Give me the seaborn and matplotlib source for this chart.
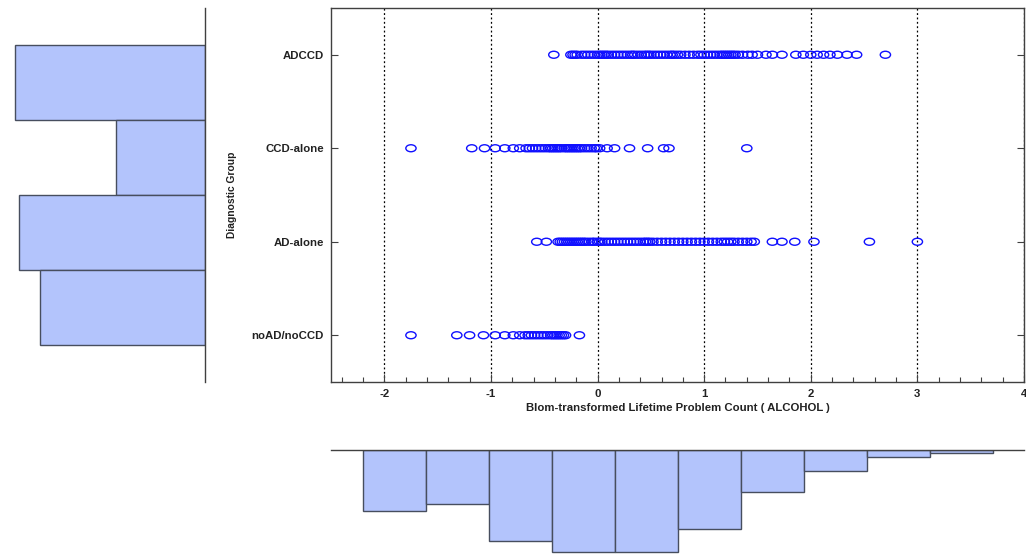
import numpy as np
import pandas as pd
import matplotlib
matplotlib.use("Agg")
import matplotlib.pyplot as plt
from matplotlib.path import Path
from matplotlib.transforms import Affine2D
import seaborn as sns

# ---------------- data ----------------
groups = ["ADCCD", "CCD-alone", "AD-alone", "noAD/noCCD"]

adccd_vals = [-0.41, -0.25, -0.23, -0.21, -0.19, -0.15, -0.12, -0.09, -0.06, -0.03,
              0.0, 0.02, 0.04, 0.06, 0.08, 0.10, 0.13, 0.16, 0.19, 0.22, 0.25, 0.28,
              0.31, 0.33, 0.35, 0.38, 0.41, 0.44, 0.46, 0.48, 0.50, 0.53, 0.56, 0.59,
              0.62, 0.65, 0.68, 0.70, 0.72, 0.75, 0.78, 0.82, 0.86, 0.90, 0.94, 0.97,
              1.00, 1.03, 1.06, 1.09, 1.12, 1.15, 1.17, 1.19, 1.21, 1.23, 1.25, 1.27,
              1.29, 1.32, 1.36, 1.41, 1.45, 1.50, 1.58, 1.64, 1.73, 1.86, 1.93, 2.00,
              2.06, 2.12, 2.18, 2.25, 2.34, 2.43, 2.70]
ccd_vals = [-1.75, -1.18, -1.06, -0.96, -0.87, -0.79, -0.73, -0.67, -0.64, -0.61,
            -0.58, -0.55, -0.52, -0.49, -0.46, -0.44, -0.42, -0.40, -0.38, -0.36,
            -0.34, -0.31, -0.29, -0.27, -0.25, -0.23, -0.21, -0.19, -0.17, -0.15,
            -0.12, -0.09, -0.06, -0.03, -0.01, 0.02, 0.09, 0.16, 0.30, 0.47, 0.62,
            0.67, 1.40]
ad_vals = [-0.57, -0.48, -0.37, -0.35, -0.33, -0.31, -0.29, -0.27, -0.25, -0.23,
           -0.21, -0.19, -0.17, -0.15, -0.13, -0.11, -0.08, -0.05, -0.03, 0.0, 0.02,
           0.04, 0.07, 0.10, 0.13, 0.16, 0.19, 0.22, 0.25, 0.28, 0.31, 0.34, 0.37,
           0.40, 0.43, 0.45, 0.47, 0.49, 0.52, 0.56, 0.60, 0.64, 0.68, 0.72, 0.76,
           0.80, 0.84, 0.88, 0.92, 0.96, 1.00, 1.04, 1.08, 1.12, 1.16, 1.19, 1.22,
           1.25, 1.28, 1.32, 1.36, 1.40, 1.44, 1.47, 1.64, 1.73, 1.85, 2.03, 2.55,
           3.00]
noad_vals = [-1.75, -1.32, -1.20, -1.07, -0.96, -0.87, -0.79, -0.73, -0.68, -0.65,
             -0.62, -0.59, -0.56, -0.53, -0.50, -0.47, -0.44, -0.42, -0.40, -0.38,
             -0.36, -0.34, -0.32, -0.30, -0.17]

group_counts = [190, 89, 186, 165]          # left marginal histogram
bin_edges = [-2.204, -1.613, -1.022, -0.431, 0.160, 0.751, 1.342, 1.933, 2.524, 3.115, 3.706]
bin_counts = [61, 54, 91, 102, 102, 79, 42, 21, 7, 3]   # bottom marginal histogram

x_ticks = [-2, -1, 0, 1, 2, 3, 4]
x_label = "Blom-transformed Lifetime Problem Count ( ALCOHOL )"
y_label = "Diagnostic Group"

# ---------------- style ----------------
sns.set_style("white")
plt.rcParams["font.family"] = ["Liberation Sans", "DejaVu Sans"]

BAR_FILL = "#b3c4fc"
BAR_EDGE = "#474e5e"
SPINE = "#404040"

W, H = 1026, 554
fig = plt.figure(figsize=(W / 100, H / 100), dpi=100)

def fax(l, t, r, b):
    return fig.add_axes([l / W, 1 - b / H, (r - l) / W, (b - t) / H])

ax = fax(331, 8, 1024, 382)
axl = fax(0, 8, 205, 382)
axb = fax(331, 450, 1024, 554)

# ---------------- main strip plot ----------------
df = pd.concat([
    pd.DataFrame({"value": v, "group": g})
    for g, v in zip(groups, [adccd_vals, ccd_vals, ad_vals, noad_vals])
], ignore_index=True)

ellipse = Path.unit_circle().transformed(Affine2D().scale(1.0, 0.68))
sns.stripplot(data=df, x="value", y="group", order=groups, jitter=False,
              marker=ellipse, size=7.4, color="blue", linewidth=1.0, ax=ax)
for c in ax.collections:
    c.set_facecolor("none")
    c.set_edgecolor("#1010ff")
    c.set_linewidth(1.0)

ax.set_xlim(-2.5, 4)
ax.set_ylim(3.5, -0.5)
ax.set_xticks(x_ticks)
ax.set_xticklabels([str(t) for t in x_ticks], fontweight="bold", fontsize=8.2)
ax.set_xticks(np.arange(-2.4, 4.0, 0.2), minor=True)
ax.tick_params(axis="x", which="major", direction="in", length=6, width=0.8,
               colors=SPINE, labelcolor="#222222", pad=5, bottom=True, top=False)
ax.tick_params(axis="x", which="minor", direction="in", length=3.5, width=0.8,
               colors=SPINE, bottom=True, top=False)
ax.tick_params(axis="y", direction="in", length=5, width=0.8, colors=SPINE,
               labelcolor="#222222", left=True, right=True, pad=5)
for lab in ax.get_yticklabels():
    lab.set_fontweight("bold")
    lab.set_fontsize(8.2)
ax.grid(axis="x", which="major", color="black", linestyle=(0, (1.5, 2)), linewidth=0.9)
ax.grid(axis="y", visible=False)
for s in ax.spines.values():
    s.set_visible(True)
    s.set_color(SPINE)
    s.set_linewidth(1.0)
ax.set_xlabel(x_label, fontweight="bold", fontsize=8.2, color="#222222", labelpad=3)
ax.set_ylabel(y_label, fontweight="bold", fontsize=7.4, color="#222222", va="center")
ax.yaxis.set_label_coords((232 - 331) / (1024 - 331), 0.5)

# ---------------- left marginal histogram ----------------
sns.barplot(x=group_counts, y=groups, orient="h", width=1.0, color=BAR_FILL,
            saturation=1, edgecolor=BAR_EDGE, linewidth=1.0, ax=axl)
axl.set_xlim(205, 0)
axl.set_ylim(4, -1)
axl.set_xticks([]); axl.set_yticks([])
axl.set_xlabel(""); axl.set_ylabel("")
for k, s in axl.spines.items():
    s.set_visible(k == "right")
    s.set_color(SPINE)
    s.set_linewidth(1.0)

# ---------------- bottom marginal histogram ----------------
bin_centers = [(a + b) / 2 for a, b in zip(bin_edges[:-1], bin_edges[1:])]
sns.histplot(x=bin_centers, weights=bin_counts, bins=bin_edges, color=BAR_FILL,
             alpha=1, edgecolor=BAR_EDGE, linewidth=1.0, ax=axb)
axb.set_xlim(-2.5, 4)
axb.set_ylim(104, 0)
axb.set_xticks([]); axb.set_yticks([])
axb.set_xlabel(""); axb.set_ylabel("")
for k, s in axb.spines.items():
    s.set_visible(k == "top")
    s.set_color(SPINE)
    s.set_linewidth(1.0)

fig.savefig("out.png", dpi=100)
